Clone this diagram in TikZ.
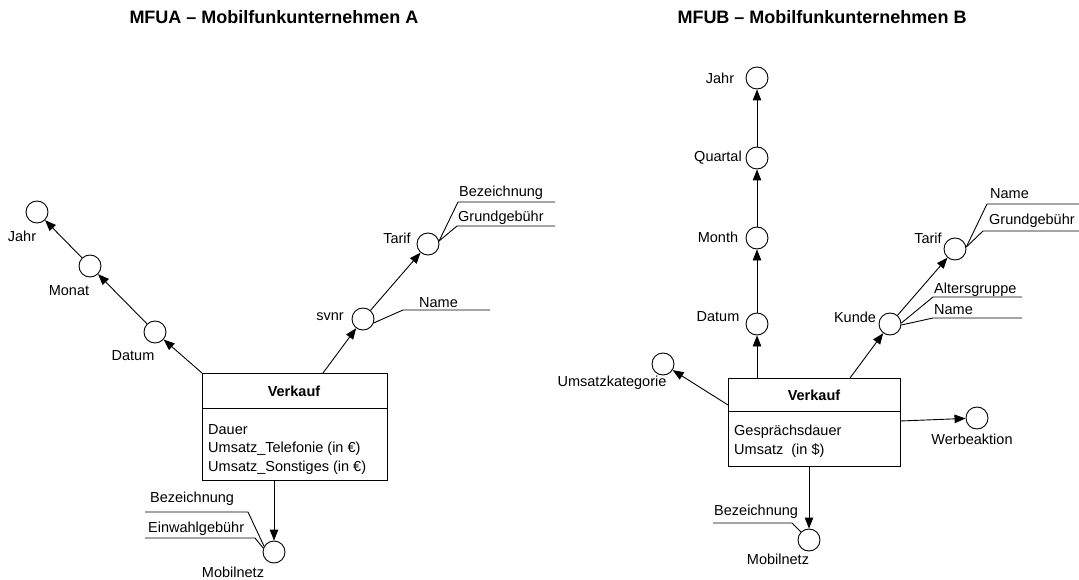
\documentclass[tikz,border=0pt]{standalone}
\usepackage{fontspec}
\setmainfont{Liberation Sans}
\usetikzlibrary{arrows.meta}

\tikzset{
  lvl/.style={circle, draw, fill=white, minimum size=22pt, inner sep=0pt, line width=0.9pt},
  lbl/.style={inner sep=0pt, font=\fontsize{14.5}{17}\selectfont},
  attr/.style={inner sep=0pt, anchor=base west, font=\fontsize{14.5}{17}\selectfont},
  ttl/.style={inner sep=0pt, font=\fontsize{18}{21}\selectfont\bfseries},
  fact/.style={draw, line width=0.9pt, anchor=north west, inner sep=0pt},
  facthead/.style={inner sep=0pt, font=\fontsize{14.5}{17}\selectfont\bfseries},
  factbody/.style={inner sep=0pt, anchor=north west, align=left, font=\fontsize{14.5}{18.5}\selectfont},
  arr/.style={-{Triangle[length=11pt,width=8.5pt]}, line width=0.9pt},
  ln/.style={line width=0.9pt}
}

\begin{document}
\begin{tikzpicture}[x=1pt, y=-1pt]
\useasboundingbox (0,0) rectangle (1079,580);

% ---------------- MFUA ----------------
\node[ttl] (titleA) at (274,17) {MFUA – Mobilfunkunternehmen A};

\node[fact, minimum width=185pt, minimum height=107pt] (vaBox) at (202,373) {};
\coordinate (vaSepL) at (202,408);
\coordinate (vaSepR) at (387,408);
\draw[ln] (vaSepL) -- (vaSepR);
\node[facthead] (vaHead) at (294,391) {Verkauf};
\node[factbody] (vaBody) at (208,424) {Dauer\\Umsatz\_Telefonie (in €)\\Umsatz\_Sonstiges (in €)};
\coordinate (vaTop) at (323,373);
\coordinate (vaBottom) at (274,480);

\node[lvl] (jahrA) at (37,212) {};
\node[lvl] (monatA) at (90,266) {};
\node[lvl] (datumA) at (155,332) {};
\node[lvl] (svnrA) at (363,319) {};
\node[lvl] (tarifA) at (428,244) {};
\node[lvl] (mobA) at (274,552) {};

\node[lbl] (jahrAL) at (22,236) {Jahr};
\node[lbl] (monatAL) at (69,291) {Monat};
\node[lbl] (datumAL) at (133,356) {Datum};
\node[lbl] (svnrAL) at (330,317) {svnr};
\node[lbl] (tarifAL) at (397,238) {Tarif};
\node[lbl] (mobAL) at (233,572) {Mobilnetz};

\draw[arr] (vaBox.north west) -- (datumA);
\draw[arr] (datumA) -- (monatA);
\draw[arr] (monatA) -- (jahrA);
\draw[arr] (vaTop) -- (svnrA);
\draw[arr] (svnrA) -- (tarifA);
\draw[arr] (vaBottom) -- (mobA);

% attributes of Tarif
\node[attr] (tarifABez) at (459,197) {Bezeichnung};
\coordinate (tABk) at (458,202);
\coordinate (tABe) at (555,202);
\draw[ln] (tarifA.15) -- (tABk) -- (tABe);
\node[attr] (tarifAGr) at (458,222) {Grundgebühr};
\coordinate (tAGk) at (457,226);
\coordinate (tAGe) at (555,226);
\draw[ln] (tarifA.15) -- (tAGk) -- (tAGe);

% attribute of svnr
\node[attr] (svnrAName) at (419,307) {Name};
\coordinate (sANk) at (403,310);
\coordinate (sANe) at (490,310);
\draw[ln] (svnrA.-20) -- (sANk) -- (sANe);

% attributes of Mobilnetz
\node[attr] (mobABez) at (150,502) {Bezeichnung};
\coordinate (mABs) at (145,512);
\coordinate (mABk) at (248,512);
\draw[ln] (mABs) -- (mABk) -- (mobA.150);
\node[attr] (mobAEin) at (148,532) {Einwahlgebühr};
\coordinate (mAEs) at (145,538);
\coordinate (mAEk) at (255,538);
\draw[ln] (mAEs) -- (mAEk) -- (mobA.160);

% ---------------- MFUB ----------------
\node[ttl] (titleB) at (822,17) {MFUB – Mobilfunkunternehmen B};

\node[fact, minimum width=172pt, minimum height=88pt] (vbBox) at (728,378) {};
\coordinate (vbSepL) at (728,411);
\coordinate (vbSepR) at (900,411);
\draw[ln] (vbSepL) -- (vbSepR);
\node[facthead] (vbHead) at (814,395) {Verkauf};
\node[factbody] (vbBody) at (734,425) {Gesprächsdauer\\Umsatz \ (in \$)};
\coordinate (vbTopL) at (757,378);
\coordinate (vbTopR) at (850,378);
\coordinate (vbLeft) at (728,405);
\coordinate (vbRight) at (900,421);
\coordinate (vbBottom) at (809,466);

\node[lvl] (jahrB) at (757,78) {};
\node[lvl] (quartalB) at (757,158) {};
\node[lvl] (monthB) at (757,238) {};
\node[lvl] (datumB) at (757,324) {};
\node[lvl] (katB) at (663,364) {};
\node[lvl] (kundeB) at (890,324) {};
\node[lvl] (tarifB) at (955,249) {};
\node[lvl] (werbeB) at (977,418) {};
\node[lvl] (mobB) at (809,540) {};

\node[lbl] (jahrBL) at (720,78) {Jahr};
\node[lbl] (quartalBL) at (718,158) {Quartal};
\node[lbl] (monthBL) at (718,237) {Month};
\node[lbl] (datumBL) at (718,317) {Datum};
\node[lbl] (katBL) at (612,383) {Umsatzkategorie};
\node[lbl] (kundeBL) at (855,317) {Kunde};
\node[lbl] (tarifBL) at (928,238) {Tarif};
\node[lbl] (werbeBL) at (972,439) {Werbeaktion};
\node[lbl] (mobBL) at (778,559) {Mobilnetz};

\draw[arr] (vbTopL) -- (datumB);
\draw[arr] (datumB) -- (monthB);
\draw[arr] (monthB) -- (quartalB);
\draw[arr] (quartalB) -- (jahrB);
\draw[arr] (vbLeft) -- (katB);
\draw[arr] (vbTopR) -- (kundeB);
\draw[arr] (kundeB) -- (tarifB);
\draw[arr] (vbRight) -- (werbeB);
\draw[arr] (vbBottom) -- (mobB);

% attributes of Tarif
\node[attr] (tarifBName) at (990,199) {Name};
\coordinate (tBNk) at (987,204);
\coordinate (tBNe) at (1079,204);
\draw[ln] (tarifB.10) -- (tBNk) -- (tBNe);
\node[attr] (tarifBGr) at (989,225) {Grundgebühr};
\coordinate (tBGk) at (983,231);
\coordinate (tBGe) at (1079,231);
\draw[ln] (tarifB.10) -- (tBGk) -- (tBGe);

% attributes of Kunde
\node[attr] (kundeBAlt) at (934,293) {Altersgruppe};
\coordinate (kBAk) at (933,297);
\coordinate (kBAe) at (1022,297);
\draw[ln] (kundeB.5) -- (kBAk) -- (kBAe);
\node[attr] (kundeBName) at (934,314) {Name};
\coordinate (kBNk) at (933,318);
\coordinate (kBNe) at (1022,318);
\draw[ln] (kundeB.-5) -- (kBNk) -- (kBNe);

% attribute of Mobilnetz
\node[attr] (mobBBez) at (714,515) {Bezeichnung};
\coordinate (mBBs) at (713,523);
\coordinate (mBBk) at (792,523);
\draw[ln] (mBBs) -- (mBBk) -- (mobB.135);

\end{tikzpicture}
\end{document}
